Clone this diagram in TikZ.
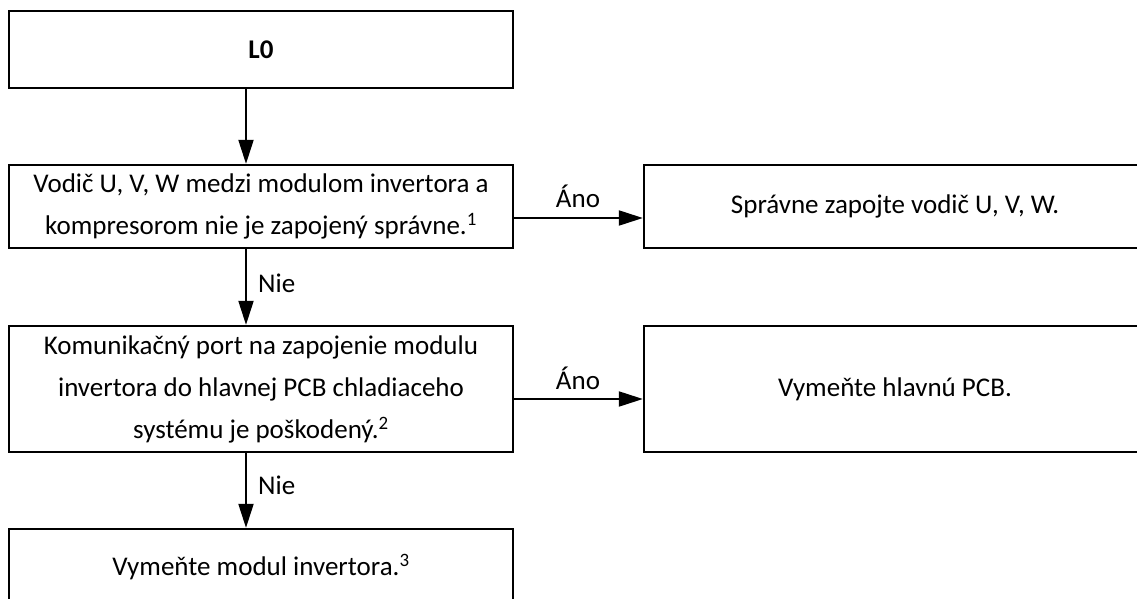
\documentclass[tikz,border=0pt]{standalone}
\usepackage{fontspec}
\setmainfont{Carlito}
\usetikzlibrary{arrows.meta}
\begin{document}
\begin{tikzpicture}[x=1pt,y=-1pt,
  box/.style={draw=black, line width=2.3pt, rectangle, inner sep=0pt, align=center,
    font=\fontsize{27}{42}\selectfont},
  lbox/.style={box, minimum width=504pt},
  rbox/.style={box, minimum width=536pt},
  txt/.style={inner sep=0pt, align=center, font=\fontsize{27}{42}\selectfont},
  arr/.style={draw=black, line width=1.9pt, -{Triangle[length=24pt,width=15pt]}},
  lbl/.style={font=\fontsize{27}{32}\selectfont, inner sep=0pt}
]
\useasboundingbox (0,0) rectangle (1137,599);
\node[lbox, minimum height=77pt] (L0) at (261,49.5) {\bfseries L0};
\node[lbox, minimum height=83pt] (b2) at (261,206.5) {Vodič U, V, W medzi modulom invertora a\\kompresorom nie je zapojený správne.\textsuperscript{1}};
\node[lbox, minimum height=126pt] (b3) at (261,389) {Komunikačný port na zapojenie modulu\\invertora do hlavnej PCB chladiaceho\\systému je poškodený.\textsuperscript{2}};
\node[lbox, minimum height=76pt] (b4) at (261,567) {Vymeňte modul invertora.\textsuperscript{3}};
\node[rbox, minimum height=83pt] (r1) at (912,206.5) {};
\node[rbox, minimum height=126pt] (r2) at (912,389) {};
\node[txt] (t1) at (895,206.5) {Správne zapojte vodič U, V, W.};
\node[txt] (t2) at (895,389) {Vymeňte hlavnú PCB.};
\coordinate (ax) at (246,0);
\coordinate (ay1) at (0,218);
\coordinate (ay2) at (0,399);
\draw[arr] (L0.south -| ax) -- (b2.north -| ax);
\draw[arr] (b2.south -| ax) -- (b3.north -| ax);
\draw[arr] (b3.south -| ax) -- (b4.north -| ax);
\draw[arr] (b2.east |- ay1) -- (r1.west |- ay1);
\draw[arr] (b3.east |- ay2) -- (r2.west |- ay2);
\node[lbl, anchor=base] (a1) at (578,207) {Áno};
\node[lbl, anchor=base] (a2) at (578,389) {Áno};
\node[lbl, anchor=base west] (n1) at (258,292) {Nie};
\node[lbl, anchor=base west] (n2) at (258,494) {Nie};
\end{tikzpicture}
\end{document}
